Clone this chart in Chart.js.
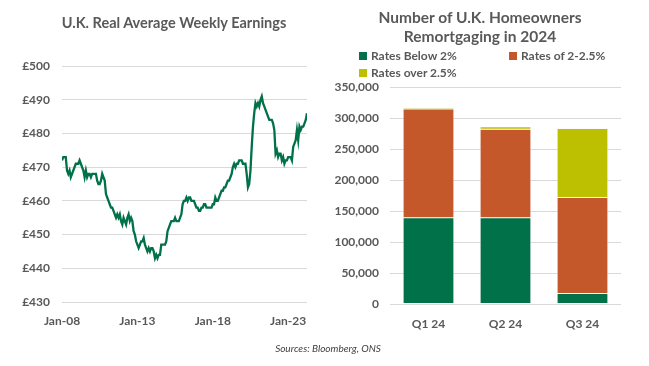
<!DOCTYPE html>
<html>
<head>
<meta charset="utf-8">
<script src="https://cdn.jsdelivr.net/npm/chart.js@4"></script>
<style>
  body { margin: 0; background: #fff; font-family: Lato, "Open Sans", sans-serif; }
  #wrap { position: relative; width: 649px; height: 366px; overflow: hidden; }
  canvas { position: absolute; top: 0; }
  .title { position: absolute; color: #595959; font-weight: bold; text-align: center; white-space: nowrap; }
  .leg { position: absolute; color: #595959; font-weight: bold; font-size: 12px; white-space: nowrap; }
  .leg span { display: inline-block; width: 8px; height: 8px; margin-right: 4px; vertical-align: 0; }
  #src { position: absolute; left: 0; width: 656px; top: 342px; text-align: center; font-style: italic; font-size: 10px; color: #404040; }
</style>
</head>
<body>
<div id="wrap">
  <canvas id="earn" width="330" height="366" style="left:0"></canvas>
  <canvas id="remort" width="319" height="366" style="left:330px"></canvas>
  <div class="title" style="left:24px;width:300px;top:14px;font-size:14.5px">U.K. Real Average Weekly Earnings</div>
  <div class="title" style="left:330px;width:300px;top:8px;font-size:15.5px;line-height:19px">Number of U.K. Homeowners<br>Remortgaging in 2024</div>
  <div id="legend"></div>
  <div id="src">Sources: Bloomberg, ONS</div>
</div>
<script>
// monthly real AWE (£), Jan 2008 .. Apr 2024
var earnings = [
  472, 473, 473, 473, 469, 468, 469, 467, 468, 469, 470, 471,
  471, 471, 472, 471, 470, 469, 467, 469, 467, 468, 468, 467,
  468, 468, 468, 468, 466, 465, 465, 466, 468, 467, 466, 462,
  461, 460, 459, 458, 458, 457, 456, 455, 456, 455, 456, 454,
  453, 455, 454, 453, 455, 456, 454, 455, 454, 451, 450, 448,
  447, 446, 447, 448, 448, 449, 447, 446, 445, 446, 445, 446,
  446, 445, 443, 444, 443, 444, 444, 447, 447, 447, 447, 448,
  451, 452, 453, 454, 454, 454, 455, 454, 454, 454, 455, 456,
  459, 460, 460, 461, 460, 461, 461, 460, 460, 460, 459, 458,
  458, 457, 457, 458, 458, 459, 459, 458, 458, 458, 458, 458,
  459, 459, 461, 460, 460, 461, 462, 463, 463, 464, 464, 465,
  466, 466, 467, 468, 470, 471, 470, 471, 471, 472, 472, 472,
  471, 471, 471, 468, 464, 465, 469, 476, 482, 486, 489, 488,
  489, 488, 490, 491, 489, 488, 487, 486, 485, 484, 484, 484,
  483, 481, 474, 475, 473, 474, 474, 472, 473, 471, 472, 472,
  473, 473, 473, 472, 476, 477, 478, 481, 478, 482, 481, 482,
  482, 483, 484, 486
];
var earnTickLabels = ['Jan-08', 'Jan-13', 'Jan-18', 'Jan-23'];
var earnTickPos = [0, 60, 120, 180];

var quarters = ['Q1 24', 'Q2 24', 'Q3 24'];
var seriesNames = ['Rates Below 2%', 'Rates of 2-2.5%', 'Rates over 2.5%'];
var below2 = [139000, 139000, 17000];
var from2to25 = [175500, 143000, 154800];
var over25 = [2000, 3800, 111300];
var seriesColors = ['#007148', '#C5582A', '#BDC000'];

var grey = '#595959';
var gridGrey = '#d9d9d9';
var tickFont = { family: 'Lato, "Open Sans", sans-serif', size: 12, weight: 'bold' };

Chart.defaults.animation = false;
Chart.defaults.devicePixelRatio = 1;

new Chart(document.getElementById('earn'), {
  type: 'line',
  data: {
    datasets: [{
      data: earnings.map(function (v, i) { return { x: i, y: v }; }),
      borderColor: '#007148',
      borderWidth: 2.3,
      pointRadius: 0,
      tension: 0
    }]
  },
  options: {
    responsive: false,
    layout: { padding: { top: 66, right: 23, bottom: 34, left: 0 } },
    plugins: { legend: { display: false }, tooltip: { enabled: false } },
    scales: {
      x: {
        type: 'linear', min: 0, max: earnings.length - 1,
        grid: { display: false, drawTicks: false },
        border: { display: false },
        afterBuildTicks: function (s) { s.ticks = earnTickPos.map(function (v) { return { value: v }; }); },
        afterFit: function (s) { s.height = 30; },
        ticks: {
          color: grey, font: tickFont, padding: 12, maxRotation: 0, autoSkip: false,
          callback: function (v) { return earnTickLabels[earnTickPos.indexOf(v)]; }
        }
      },
      y: {
        min: 430, max: 500,
        grid: { color: gridGrey, drawTicks: false },
        border: { display: false },
        afterFit: function (s) { s.width = 62; },
        ticks: { stepSize: 10, color: grey, font: tickFont, padding: 12,
          callback: function (v) { return '£' + v; } }
      }
    }
  }
});

var barData = [below2, from2to25, over25];
new Chart(document.getElementById('remort'), {
  type: 'bar',
  data: {
    labels: quarters,
    datasets: barData.map(function (d, i) {
      return { label: seriesNames[i], data: d, backgroundColor: seriesColors[i],
        borderColor: '#f4f4f4', borderWidth: 0.5, borderSkipped: false,
        barPercentage: 0.66, categoryPercentage: 1 };
    })
  },
  options: {
    responsive: false,
    layout: { padding: { top: 87, right: 28, bottom: 32, left: 0 } },
    plugins: { legend: { display: false }, tooltip: { enabled: false } },
    scales: {
      x: {
        stacked: true,
        grid: { display: false, drawTicks: false },
        border: { display: false },
        afterFit: function (s) { s.height = 30; },
        ticks: { color: grey, font: tickFont, padding: 13 }
      },
      y: {
        stacked: true, min: 0, max: 350000,
        grid: { color: gridGrey, drawTicks: false },
        border: { display: false },
        afterFit: function (s) { s.width = 60; },
        ticks: { stepSize: 50000, color: grey, font: tickFont, padding: 11,
          callback: function (v) { return v.toLocaleString('en-US'); } }
      }
    }
  }
});

// legend laid out like the original (two columns)
var legPos = [[359, 48], [509, 48], [359, 65]];
var legend = document.getElementById('legend');
seriesNames.forEach(function (name, i) {
  var d = document.createElement('div');
  d.className = 'leg';
  d.style.left = legPos[i][0] + 'px';
  d.style.top = legPos[i][1] + 'px';
  d.innerHTML = '<span style="background:' + seriesColors[i] + '"></span>' + name;
  legend.appendChild(d);
});
</script>
</body>
</html>
